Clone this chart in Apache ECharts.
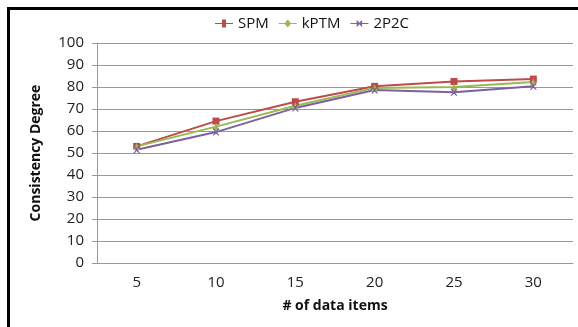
<!DOCTYPE html>
<html><head><meta charset="utf-8">
<script src="https://cdn.jsdelivr.net/npm/echarts@6/dist/echarts.min.js"></script>
<style>html,body{margin:0;padding:0;background:#fff}#c{width:578px;height:327px}</style>
</head><body><div id="c"></div>
<script>
const categories = ['5','10','15','20','25','30'];
const spm  = [53, 64.5, 73.3, 80.3, 82.5, 83.6];
const kptm = [53, 62, 71.5, 79.6, 80, 82.3];
const p2c  = [51.5, 59.5, 70.5, 78.6, 77.6, 80.3];
const yTicks = {min: 0, max: 100, interval: 10};

const font = 'Open Sans';
const chart = echarts.init(document.getElementById('c'));
function s(name, data, color, symbol, size) {
  return {name, type: 'line', data, symbol, symbolSize: size,
    lineStyle: {color, width: 2}, itemStyle: {color},
    animation: false};
}
chart.setOption({
  animation: false,
  graphic: [
    {type: 'line', shape: {x1: 7, y1: 8.5, x2: 578, y2: 8.5}, style: {stroke: '#000', lineWidth: 3}},
    {type: 'line', shape: {x1: 8.5, y1: 7, x2: 8.5, y2: 327}, style: {stroke: '#000', lineWidth: 3}}
  ],
  legend: {
    top: 11, left: 210, itemGap: 10, itemWidth: 18, itemHeight: 8,
    textStyle: {fontFamily: font, fontSize: 15, color: '#111'},
    data: [
      {name: 'SPM', icon: 'path://M0,3.5L7,3.5L7,0L11,0L11,3.5L18,3.5L18,4.5L11,4.5L11,8L7,8L7,4.5L0,4.5Z'},
      {name: 'kPTM', icon: 'path://M0,3.5L6,3.5L9,0L12,3.5L18,3.5L18,4.5L12,4.5L9,8L6,4.5L0,4.5Z'},
      {name: '2P2C', icon: 'path://M0,3.5L6.5,3.5L6,1L7,1L9,3.3L11,1L12,1L11.5,3.5L18,3.5L18,4.5L11.5,4.5L12,7L11,7L9,4.7L7,7L6,7L6.5,4.5L0,4.5Z'}
    ]
  },
  grid: {left: 97, top: 43, right: 5, bottom: 64},
  xAxis: {
    type: 'category', data: categories, boundaryGap: true,
    name: '# of data items', nameLocation: 'middle', nameGap: 36,
    nameTextStyle: {fontFamily: font, fontSize: 14, fontWeight: 'bold', color: '#111'},
    axisLine: {show: true, lineStyle: {color: '#999'}},
    axisTick: {show: false},
    axisLabel: {fontFamily: font, fontSize: 15, color: '#222', margin: 12}
  },
  yAxis: {
    type: 'value', min: yTicks.min, max: yTicks.max, interval: yTicks.interval,
    name: 'Consistency Degree', nameLocation: 'middle', nameGap: 54,
    nameTextStyle: {fontFamily: font, fontSize: 14, fontWeight: 'bold', color: '#111'},
    axisLine: {show: true, lineStyle: {color: '#999'}},
    axisTick: {show: true, length: 5, lineStyle: {color: '#999'}},
    axisLabel: {fontFamily: font, fontSize: 15, color: '#222', margin: 13},
    splitLine: {lineStyle: {color: '#999', width: 1}}
  },
  series: [
    s('SPM', spm, '#BE4B48', 'rect', 7),
    s('kPTM', kptm, '#98B954', 'triangle', 7),
    s('2P2C', p2c, '#7D60A0', 'path://M0,0L2,0L5,3L8,0L10,0L6,5L10,10L8,10L5,7L2,10L0,10L4,5Z', 7)
  ]
});
</script></body></html>
